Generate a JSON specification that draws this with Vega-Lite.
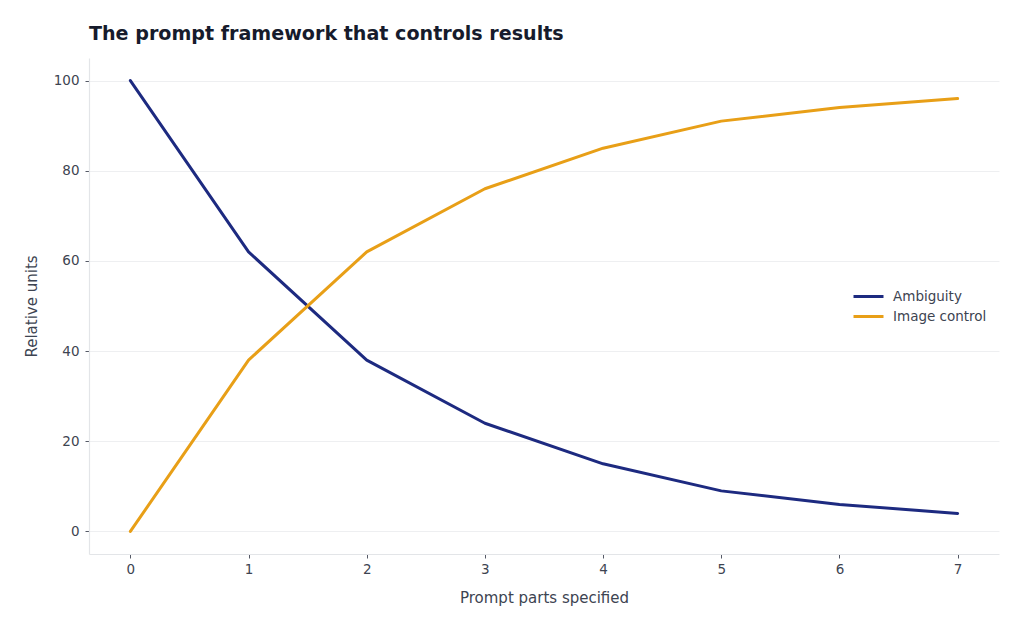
{
  "$schema": "https://vega.github.io/schema/vega-lite/v6.json",
  "autosize": {"type": "none"},
  "width": 910,
  "height": 496,
  "padding": {"left": 89, "top": 58, "right": 25, "bottom": 77},
  "background": "white",
  "title": {
    "text": "The prompt framework that controls results",
    "anchor": "start",
    "frame": "group",
    "font": "DejaVu Sans",
    "fontSize": 19.1,
    "fontWeight": "bold",
    "color": "#161b2c",
    "baseline": "alphabetic",
    "offset": 1,
    "dy": 2
  },
  "data": {
    "values": [
      {"parts": 0, "series": "Ambiguity", "value": 100},
      {"parts": 1, "series": "Ambiguity", "value": 62},
      {"parts": 2, "series": "Ambiguity", "value": 38},
      {"parts": 3, "series": "Ambiguity", "value": 24},
      {"parts": 4, "series": "Ambiguity", "value": 15},
      {"parts": 5, "series": "Ambiguity", "value": 9},
      {"parts": 6, "series": "Ambiguity", "value": 6},
      {"parts": 7, "series": "Ambiguity", "value": 4},
      {"parts": 0, "series": "Image control", "value": 0},
      {"parts": 1, "series": "Image control", "value": 38},
      {"parts": 2, "series": "Image control", "value": 62},
      {"parts": 3, "series": "Image control", "value": 76},
      {"parts": 4, "series": "Image control", "value": 85},
      {"parts": 5, "series": "Image control", "value": 91},
      {"parts": 6, "series": "Image control", "value": 94},
      {"parts": 7, "series": "Image control", "value": 96}
    ]
  },
  "mark": {"type": "line", "strokeWidth": 3, "strokeCap": "round", "strokeJoin": "round"},
  "encoding": {
    "x": {
      "field": "parts",
      "type": "quantitative",
      "title": "Prompt parts specified",
      "scale": {"domain": [-0.35, 7.35], "nice": false, "zero": false},
      "axis": {"values": [0, 1, 2, 3, 4, 5, 6, 7], "grid": false, "format": "d", "labelPadding": 4, "titlePadding": 15}
    },
    "y": {
      "field": "value",
      "type": "quantitative",
      "title": "Relative units",
      "scale": {"domain": [-5, 105], "nice": false, "zero": false},
      "axis": {"values": [0, 20, 40, 60, 80, 100], "grid": true, "labelPadding": 6, "titlePadding": 14}
    },
    "color": {
      "field": "series",
      "type": "nominal",
      "title": null,
      "scale": {"domain": ["Ambiguity", "Image control"], "range": ["#1d2a80", "#e89f17"]},
      "legend": {
        "orient": "none",
        "legendX": 768,
        "legendY": 227,
        "symbolType": "M-1.5,0H1.5",
        "symbolSize": 400,
        "symbolStrokeWidth": 3,
        "rowPadding": 2,
        "labelFontSize": 13.5,
        "labelFont": "DejaVu Sans",
        "labelColor": "#3d4451",
        "labelOffset": 13
      }
    }
  },
  "config": {
    "view": {"stroke": null},
    "axis": {
      "labelFont": "DejaVu Sans",
      "titleFont": "DejaVu Sans",
      "labelFontSize": 13.5,
      "titleFontSize": 15,
      "titleFontWeight": "normal",
      "labelColor": "#3d4451",
      "titleColor": "#3d4451",
      "domainColor": "#e3e5e8",
      "domainWidth": 1.2,
      "gridColor": "#eeeff1",
      "gridWidth": 1,
      "tickColor": "#555a66",
      "tickSize": 4,
      "tickWidth": 1
    }
  }
}
